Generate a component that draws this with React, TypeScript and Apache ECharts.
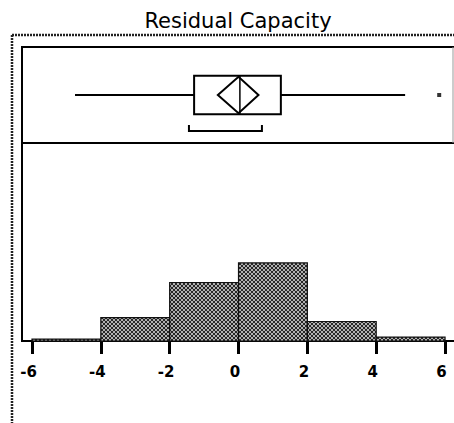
import React, { useEffect, useRef } from "react";
import * as echarts from "echarts";

const chartTitle = "Residual Capacity";
// histogram bins
const binStarts = [-6, -4, -2, 0, 2, 4];
const binEnds = [-4, -2, 0, 2, 4, 6];
const binCounts = [1, 12, 30, 40, 10, 2];
// x-axis ticks
const tickValues = [-6, -4, -2, 0, 2, 4, 6];
// outlier box plot: whisker low, Q1, median, Q3, whisker high
const quantiles = [-4.75, -1.29, 0.04, 1.23, 4.84];
// means diamond: lower CI, mean, upper CI
const meanDiamond = [-0.6, 0.0, 0.58];
// shortest half bracket
const shortestHalf = [-1.44, 0.68];
// outliers
const outliers = [5.83];

function makePattern(): HTMLCanvasElement {
  const c = document.createElement("canvas");
  c.width = 4;
  c.height = 4;
  const ctx = c.getContext("2d")!;
  ctx.fillStyle = "#b0b0b0";
  ctx.fillRect(0, 0, 4, 4);
  ctx.fillStyle = "#262626";
  for (let i = 0; i < 4; i++) {
    ctx.fillRect(i, i, 1, 1);
    ctx.fillRect(3 - i, i, 1, 1);
  }
  return c;
}

export default function App() {
  const ref = useRef<HTMLDivElement>(null);
  useEffect(() => {
    if (!ref.current) return;
    const chart = echarts.init(ref.current, undefined, { renderer: "svg" });
    const pattern = makePattern();
    const font = "DejaVu Sans";
    const xMin = -6.29;
    const xMax = 6.26;

    const histData = binStarts.map((s, i) => [s, binEnds[i], binCounts[i]]);

    chart.setOption({
      animation: false,
      backgroundColor: "#ffffff",
      textStyle: { fontFamily: font, color: "#000" },
      grid: [
        { left: 22, right: 0, top: 47, height: 96 },
        { left: 22, right: 0, top: 143, height: 198 },
      ],
      xAxis: [
        { type: "value", gridIndex: 0, min: xMin, max: xMax, show: false },
        {
          type: "value",
          gridIndex: 1,
          min: xMin,
          max: xMax,
          axisLine: { show: true, onZero: false, lineStyle: { color: "#000", width: 2 } },
          axisTick: {
            show: true,
            length: 13,
            customValues: tickValues,
            lineStyle: { color: "#000", width: 3 },
          },
          axisLabel: {
            show: true,
            customValues: tickValues,
            margin: 23,
            formatter: "{v|{value}}",
            rich: {
              v: {
                fontFamily: font,
                fontSize: 15,
                fontWeight: "bold",
                color: "#000",
                padding: [0, 7, 0, 0],
              },
            },
            showMinLabel: true,
            showMaxLabel: true,
          },
          splitLine: { show: false },
        },
      ],
      yAxis: [
        { type: "value", gridIndex: 0, min: 0, max: 1, show: false },
        { type: "value", gridIndex: 1, min: 0, max: 101.5, show: false },
      ],
      graphic: [
        {
          type: "text",
          z: 10,
          style: {
            text: chartTitle,
            x: 238,
            y: 21,
            textAlign: "center",
            textVerticalAlign: "middle",
            fontFamily: font,
            fontSize: 21,
            fill: "#000",
          },
        },
        {
          type: "line",
          z: 10,
          shape: { x1: 12, y1: 35, x2: 12, y2: 423 },
          style: { stroke: "#222", lineWidth: 2.5, lineDash: [2, 1] },
        },
        {
          type: "line",
          z: 10,
          shape: { x1: 12, y1: 35, x2: 454, y2: 35 },
          style: { stroke: "#222", lineWidth: 2.5, lineDash: [2, 1] },
        },
        {
          type: "line",
          z: 10,
          shape: { x1: 22, y1: 47, x2: 454, y2: 47 },
          style: { stroke: "#000", lineWidth: 2 },
        },
        {
          type: "line",
          z: 10,
          shape: { x1: 22, y1: 46, x2: 22, y2: 342 },
          style: { stroke: "#000", lineWidth: 2 },
        },
        {
          type: "line",
          z: 10,
          shape: { x1: 22, y1: 143, x2: 454, y2: 143 },
          style: { stroke: "#000", lineWidth: 2 },
        },
        {
          type: "line",
          z: 10,
          shape: { x1: 453, y1: 47, x2: 453, y2: 143 },
          style: { stroke: "#999", lineWidth: 1 },
        },
      ],
      series: [
        {
          type: "custom",
          xAxisIndex: 0,
          yAxisIndex: 0,
          data: [[quantiles[2], 0.5]],
          renderItem: (params: any, api: any) => {
            const y = 0.5;
            const c = (x: number, yy: number) => api.coord([x, yy]);
            const [lo, q1, med, q3, hi] = quantiles;
            const pLo = c(lo, y);
            const pQ1 = c(q1, y);
            const pQ3 = c(q3, y);
            const pHi = c(hi, y);
            const top = c(q1, y + 0.2)[1];
            const bottom = c(q1, y - 0.2)[1];
            const pMed = c(med, y);
            const dTop = c(meanDiamond[1], y + 0.19);
            const dBot = c(meanDiamond[1], y - 0.19);
            const dL = c(meanDiamond[0], y);
            const dR = c(meanDiamond[2], y);
            const b1 = c(shortestHalf[0], 0.1875);
            const b2 = c(shortestHalf[0], 0.125);
            const b3 = c(shortestHalf[1], 0.125);
            const b4 = c(shortestHalf[1], 0.1875);
            const st = { stroke: "#000", lineWidth: 2, fill: "none" };
            return {
              type: "group",
              children: [
                { type: "line", shape: { x1: pLo[0], y1: pLo[1], x2: pQ1[0], y2: pQ1[1] }, style: st },
                { type: "line", shape: { x1: pQ3[0], y1: pQ3[1], x2: pHi[0], y2: pHi[1] }, style: st },
                {
                  type: "rect",
                  shape: { x: pQ1[0], y: top, width: pQ3[0] - pQ1[0], height: bottom - top },
                  style: st,
                },
                {
                  type: "line",
                  shape: { x1: pMed[0], y1: top, x2: pMed[0], y2: bottom },
                  style: { stroke: "#000", lineWidth: 1.5 },
                },
                {
                  type: "polygon",
                  shape: { points: [dL, dTop, dR, dBot] },
                  style: st,
                },
                {
                  type: "polyline",
                  shape: { points: [b1, b2, b3, b4] },
                  style: st,
                },
              ],
            };
          },
        },
        {
          type: "scatter",
          xAxisIndex: 0,
          yAxisIndex: 0,
          symbol: "rect",
          symbolSize: 4,
          itemStyle: { color: "#000" },
          data: outliers.map((v) => [v, 0.5]),
        },
        {
          type: "custom",
          xAxisIndex: 1,
          yAxisIndex: 1,
          data: histData,
          encode: { x: [0, 1], y: 2 },
          renderItem: (params: any, api: any) => {
            const p0 = api.coord([api.value(0), api.value(2)]);
            const p1 = api.coord([api.value(1), 0]);
            return {
              type: "rect",
              shape: { x: p0[0], y: p0[1], width: p1[0] - p0[0], height: p1[1] - p0[1] },
              style: {
                fill: { image: pattern, repeat: "repeat" },
                stroke: "#111",
                lineWidth: 1.2,
              },
            };
          },
        },
      ],
    });
    return () => chart.dispose();
  }, []);
  return (
    <div
      ref={ref}
      style={{ position: "fixed", left: 0, top: 0, width: 454, height: 423, background: "#fff" }}
    />
  );
}
